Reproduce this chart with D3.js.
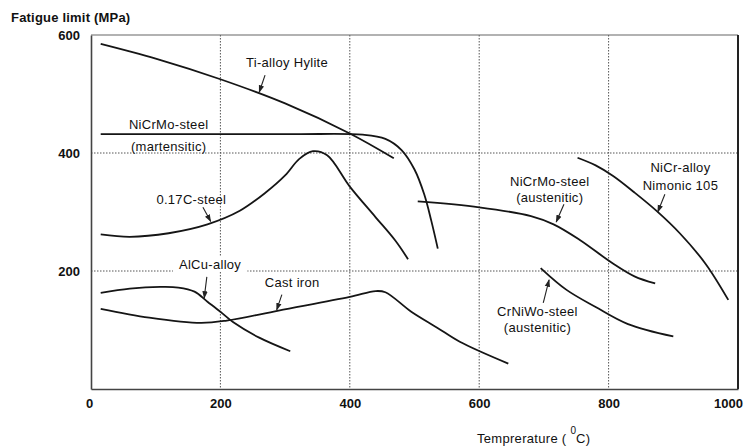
<!DOCTYPE html>
<html>
<head>
<meta charset="utf-8">
<script src="https://cdn.jsdelivr.net/npm/d3@7"></script>
<style>
  body { margin: 0; background: #fff; }
  text { font-family: "Liberation Sans", Arial, sans-serif; fill: #111; }
</style>
</head>
<body>
<div id="chart"></div>
<script>
// curves: [temperature degC, fatigue limit MPa]
var tiAlloy = [[15,585],[100,560],[200,525],[300,484],[400,433],[468,391]];
var nicrmoMart = [[15,432],[200,432],[320,432],[420,431],[455,424],[480,405],[500,372],[515,330],[526,285],[536,238]];
var c017Steel = [[15,262],[60,258],[120,264],[180,279],[230,302],[270,333],[300,362],[322,390],[343,403],[365,396],[400,343],[440,291],[470,252],[490,220]];
var nicrmoAust = [[505,318],[600,308],[680,293],[715,279],[755,253],[805,214],[840,191],[872,179]];
var nimonic = [[752,392],[780,379],[807,361],[840,333],[875,301],[910,264],[950,212],[985,151]];
var crniwo = [[695,205],[735,168],[780,139],[830,110],[900,89]];
var alcu = [[15,163],[60,170],[107,173],[135,172],[160,165],[180,148],[200,131],[220,113],[260,87],[308,64]];
var castIron = [[15,136],[90,121],[170,112],[210,116],[290,133],[400,156],[440,166],[455,164],[495,131],[535,104],[570,80],[645,43]];

var xTicks = [0, 200, 400, 600, 800, 1000];
var yTicks = [200, 400, 600];

// labels: text lines, centre x and first line y in data units, line gap in px
var labels = [
  { lines: ["Ti-alloy Hylite"], x: 303, y: 553, gap: 0 },
  { lines: ["NiCrMo-steel", "(martensitic)"], x: 120, y: 449, gap: 22 },
  { lines: ["0.17C-steel"], x: 155, y: 321, gap: 0 },
  { lines: ["NiCrMo-steel", "(austenitic)"], x: 709, y: 351, gap: 16 },
  { lines: ["NiCr-alloy", "Nimonic 105"], x: 911, y: 376, gap: 18 },
  { lines: ["CrNiWo-steel", "(austenitic)"], x: 690, y: 131, gap: 15.5 },
  { lines: ["AlCu-alloy"], x: 184, y: 211, gap: 0, bg: true },
  { lines: ["Cast iron"], x: 311, y: 180, gap: 0 }
];
// little pointer arrows from label to curve: [x1,y1,x2,y2] in data units
var pointers = [
  [269,532,260,503],
  [173,308,185,284],
  [731,313,719,283],
  [887,330,876,300],
  [699,146,708,185],
  [179,190,175,154],
  [295,160,287,134]
];

var margin = { top: 35, right: 9, bottom: 58, left: 91 },
  width = 747 - margin.left - margin.right,
  height = 447 - margin.top - margin.bottom;

var svgRoot = d3.select("#chart").append("svg")
  .attr("width", 747).attr("height", 447);
var svg = svgRoot.append("g")
  .attr("transform", "translate(" + margin.left + "," + margin.top + ")");

var x = d3.scaleLinear().domain([0, 1000]).range([0, width]);
var y = d3.scaleLinear().domain([0, 600]).range([height, 0]);

// grid
svg.selectAll(".vgrid").data(xTicks.filter(d => d > 0 && d < 1000)).join("line")
  .attr("x1", d => x(d)).attr("x2", d => x(d))
  .attr("y1", 0).attr("y2", height)
  .attr("stroke", "#555").attr("stroke-width", 1).attr("stroke-dasharray", "1.5,1.5");
svg.selectAll(".hgrid").data(yTicks.filter(d => d < 600)).join("line")
  .attr("x1", 0).attr("x2", width)
  .attr("y1", d => y(d)).attr("y2", d => y(d))
  .attr("stroke", "#555").attr("stroke-width", 1).attr("stroke-dasharray", "1.5,1.5");

// frame
svg.append("line").attr("x1", 0).attr("x2", width).attr("y1", 0).attr("y2", 0)
  .attr("stroke", "#666").attr("stroke-width", 1.2);
svg.append("line").attr("x1", width).attr("x2", width).attr("y1", 0).attr("y2", height)
  .attr("stroke", "#222").attr("stroke-width", 2);

// axes
var xAxis = svg.append("g")
  .attr("transform", "translate(0," + height + ")")
  .call(d3.axisBottom(x).tickValues(xTicks).tickFormat(d3.format("d")).tickSize(0).tickPadding(10));
var yAxis = svg.append("g")
  .call(d3.axisLeft(y).tickValues(yTicks).tickFormat(d3.format("d")).tickSize(0).tickPadding(11));
[xAxis, yAxis].forEach(function (a) {
  a.select(".domain").attr("stroke", "#444").attr("stroke-width", 1.6);
  a.selectAll("text").style("font-family", "Liberation Sans, Arial, sans-serif")
    .style("font-size", "13px").style("font-weight", "bold").attr("fill", "#222");
});
xAxis.selectAll(".tick").filter(d => d === 0).select("text").attr("dx", "-2");
xAxis.selectAll(".tick").filter(d => d === 1000).select("text").attr("dx", "-10");

// curves
var line = d3.line()
  .x(d => x(d[0])).y(d => y(d[1]))
  .curve(d3.curveCatmullRom.alpha(0.5));
var curves = [tiAlloy, nicrmoMart, c017Steel, nicrmoAust, nimonic, crniwo, alcu, castIron];
svg.selectAll(".curve").data(curves).join("path")
  .attr("class", "curve")
  .attr("d", line)
  .attr("fill", "none")
  .attr("stroke", "#151515")
  .attr("stroke-width", 1.8);

// arrow heads
svgRoot.append("defs").append("marker")
  .attr("id", "arr").attr("viewBox", "0 0 10 10")
  .attr("refX", 9).attr("refY", 5)
  .attr("markerWidth", 7).attr("markerHeight", 7)
  .attr("orient", "auto")
  .append("path").attr("d", "M0,1.5L10,5L0,8.5Z").attr("fill", "#222");

svg.selectAll(".ptr").data(pointers).join("line")
  .attr("x1", d => x(d[0])).attr("y1", d => y(d[1]))
  .attr("x2", d => x(d[2])).attr("y2", d => y(d[3]))
  .attr("stroke", "#222").attr("stroke-width", 1.1)
  .attr("marker-end", "url(#arr)");

// labels
labels.forEach(function (l) {
  var g = svg.append("g");
  var t = g.append("text")
    .attr("text-anchor", "middle")
    .style("font-size", "13px")
    .style("letter-spacing", "0.3px");
  l.lines.forEach(function (s, i) {
    t.append("tspan")
      .attr("x", x(l.x))
      .attr("y", y(l.y) + i * l.gap + 4.5)
      .text(s);
  });
  if (l.bg) {
    var b = t.node().getBBox();
    g.insert("rect", "text")
      .attr("x", b.x - 6).attr("y", b.y)
      .attr("width", b.width + 12).attr("height", b.height)
      .attr("fill", "#fff");
  }
});

// axis titles
svgRoot.append("text").attr("x", 11).attr("y", 22)
  .style("font-size", "13px").style("font-weight", "bold").style("letter-spacing", "0.2px")
  .text("Fatigue limit (MPa)");
var xt = svgRoot.append("text").attr("x", 477).attr("y", 443)
  .style("font-size", "13px").style("letter-spacing", "0.3px");
xt.append("tspan").text("Temprerature ( ");
xt.append("tspan").attr("dy", -9).style("font-size", "10px").style("letter-spacing", "0px").text("0");
xt.append("tspan").attr("dy", 9).text("C)");
</script>
</body>
</html>
